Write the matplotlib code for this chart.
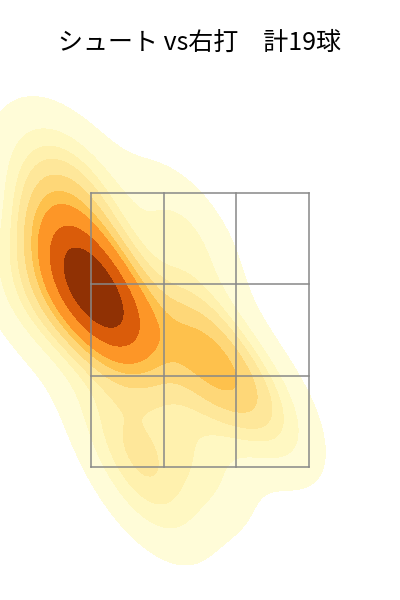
import matplotlib
matplotlib.use("Agg")
import matplotlib.pyplot as plt
import seaborn as sns

# pitch locations (ft, catcher view), 19 shuuto vs RHB
px = [-0.78, -0.74, -0.72, -0.68, -0.65, -0.62, -0.57, -0.76,
      -1.11,
      -0.95, -0.78,
      -0.10,
      -0.07, 0.05, 0.14,
      0.44,
      -0.52, -0.33, -0.03]
pz = [2.84, 2.76, 2.71, 2.65, 2.60, 2.54, 2.47, 2.61,
      2.59,
      3.27, 3.38,
      3.01,
      2.28, 2.23, 2.16,
      1.87,
      1.74, 1.35, 1.58]

title = "シュート vs右打　計19球"
zone_x = [-0.71, 0.71]
zone_z = [1.5, 3.285]

plt.rcParams["font.family"] = ["Noto Sans CJK JP", "DejaVu Sans"]
fig = plt.figure(figsize=(4, 6), dpi=100)
ax = fig.add_axes([0, 0, 1, 1])

sns.kdeplot(x=px, y=pz, fill=True, cmap="YlOrBr", levels=10, thresh=0.05, ax=ax)

# 3x3 strike zone
w = (zone_x[1] - zone_x[0]) / 3
h = (zone_z[1] - zone_z[0]) / 3
for i in range(4):
    ax.plot([zone_x[0] + i * w] * 2, zone_z, color="#888888", lw=1.1)
    ax.plot(zone_x, [zone_z[0] + i * h] * 2, color="#888888", lw=1.1)

ax.set_xlim(-1.303, 1.303)
ax.set_ylim(0.634, 4.543)
ax.axis("off")
fig.text(0.5, 1 - 43 / 600, title, ha="center", va="center", fontsize=18)

fig.savefig("out.png")
